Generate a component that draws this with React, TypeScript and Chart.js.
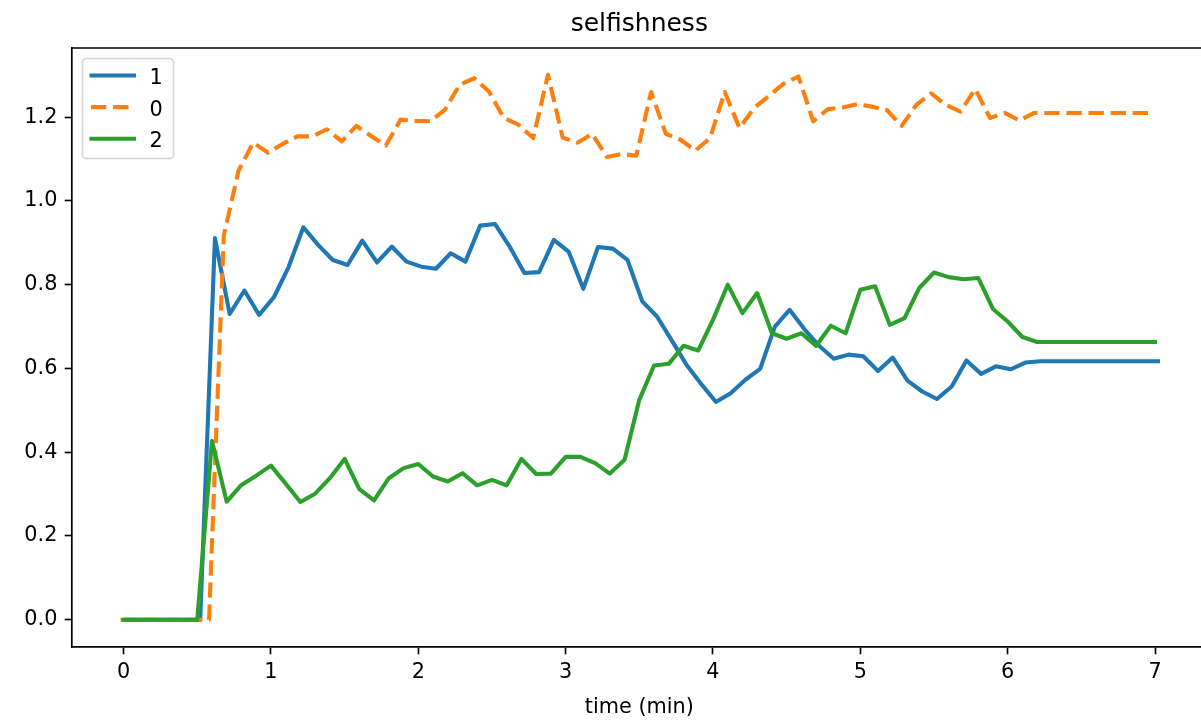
import React, { useEffect, useRef } from "react";
import { Chart, registerables } from "chart.js";

Chart.register(...registerables);

const FONT = "'DejaVu Sans', 'Liberation Sans', sans-serif";

const chartTitle = "selfishness";
const xAxisTitle = "time (min)";

const times = [
  0, 0.1, 0.2, 0.3, 0.4, 0.5, 0.6, 0.7, 0.8, 0.9,
  1, 1.1, 1.2, 1.3, 1.4, 1.5, 1.6, 1.7, 1.8, 1.9,
  2, 2.1, 2.2, 2.3, 2.4, 2.5, 2.6, 2.7, 2.8, 2.9,
  3, 3.1, 3.2, 3.3, 3.4, 3.5, 3.6, 3.7, 3.8, 3.9,
  4, 4.1, 4.2, 4.3, 4.4, 4.5, 4.6, 4.7, 4.8, 4.9,
  5, 5.1, 5.2, 5.3, 5.4, 5.5, 5.6, 5.7, 5.8, 5.9,
  6, 6.1, 6.2, 6.3, 6.4, 6.5, 6.6, 6.7, 6.8, 6.9,
  7,
];

// per-series time shift (sampling offset)
const shift1 = 0.02;
const shift0 = -0.02;
const shift2 = 0;

const labels = ["1", "0", "2"];

const series1 = [
  0, 0, 0, 0, 0, 0, 0.911, 0.730, 0.786, 0.728,
  0.770, 0.842, 0.937, 0.895, 0.859, 0.847, 0.905, 0.853, 0.891, 0.855,
  0.843, 0.838, 0.875, 0.855, 0.941, 0.945, 0.891, 0.828, 0.830, 0.907,
  0.879, 0.790, 0.890, 0.886, 0.859, 0.760, 0.724, 0.667, 0.609, 0.563,
  0.520, 0.541, 0.573, 0.599, 0.700, 0.740, 0.694, 0.654, 0.623, 0.633,
  0.629, 0.594, 0.626, 0.571, 0.545, 0.527, 0.557, 0.619, 0.587, 0.605,
  0.598, 0.614, 0.617, 0.617, 0.617, 0.617, 0.617, 0.617, 0.617, 0.617,
  0.617,
];

const series0 = [
  0, 0, 0, 0, 0, 0, 0, 0.917, 1.072, 1.139,
  1.115, 1.136, 1.154, 1.154, 1.171, 1.142, 1.179, 1.155, 1.132, 1.194,
  1.191, 1.190, 1.217, 1.277, 1.293, 1.261, 1.198, 1.182, 1.150, 1.301,
  1.151, 1.139, 1.160, 1.105, 1.112, 1.108, 1.260, 1.160, 1.146, 1.120,
  1.150, 1.260, 1.174, 1.222, 1.251, 1.280, 1.297, 1.190, 1.219, 1.223,
  1.231, 1.225, 1.217, 1.179, 1.229, 1.257, 1.229, 1.213, 1.267, 1.198,
  1.210, 1.192, 1.210, 1.210, 1.210, 1.210, 1.210, 1.210, 1.210, 1.210,
  1.210,
];

const series2 = [
  0, 0, 0, 0, 0, 0, 0.427, 0.282, 0.322, 0.344,
  0.368, 0.325, 0.281, 0.301, 0.338, 0.384, 0.312, 0.285, 0.338, 0.362,
  0.372, 0.342, 0.330, 0.350, 0.321, 0.334, 0.321, 0.384, 0.348, 0.349,
  0.389, 0.389, 0.374, 0.349, 0.382, 0.525, 0.607, 0.611, 0.654, 0.643,
  0.716, 0.800, 0.732, 0.780, 0.684, 0.671, 0.684, 0.654, 0.702, 0.684,
  0.788, 0.796, 0.704, 0.720, 0.792, 0.829, 0.818, 0.813, 0.816, 0.742,
  0.712, 0.675, 0.663, 0.663, 0.663, 0.663, 0.663, 0.663, 0.663, 0.663,
  0.663,
];

const xTicks = [0, 1, 2, 3, 4, 5, 6, 7];
const yTicks = [0, 0.2, 0.4, 0.6, 0.8, 1.0, 1.2];

const X_MIN = -0.35;
const X_MAX = 7.35;
const Y_MIN = -0.065;
const Y_MAX = 1.365;

const BLUE = "#1f77b4";
const ORANGE = "#ff7f0e";
const GREEN = "#2ca02c";

const LW = 4.1;
const DASH = [15.4, 6.7];
const SPINE = 1.67;

const toPoints = (ys: number[], shift: number) =>
  ys.map((y, i) => ({ x: times[i] + shift, y }));

const framePlugin = {
  id: "framePlugin",
  afterDraw(chart: any) {
    const { ctx, chartArea: a } = chart;
    ctx.save();
    // top spine
    ctx.strokeStyle = "#000";
    ctx.lineWidth = SPINE;
    ctx.lineCap = "square";
    ctx.beginPath();
    ctx.moveTo(a.left, a.top);
    ctx.lineTo(a.right + 10, a.top);
    ctx.stroke();

    // legend
    const lx = a.left + 10.5;
    const ly = a.top + 10.5;
    const lw = 91;
    const lh = 100;
    const r = 4;
    ctx.beginPath();
    ctx.moveTo(lx + r, ly);
    ctx.arcTo(lx + lw, ly, lx + lw, ly + lh, r);
    ctx.arcTo(lx + lw, ly + lh, lx, ly + lh, r);
    ctx.arcTo(lx, ly + lh, lx, ly, r);
    ctx.arcTo(lx, ly, lx + lw, ly, r);
    ctx.closePath();
    ctx.fillStyle = "rgba(255,255,255,0.8)";
    ctx.fill();
    ctx.strokeStyle = "#d4d4d4";
    ctx.lineWidth = 1.6;
    ctx.stroke();

    const ds = chart.data.datasets;
    ds.forEach((d: any, i: number) => {
      const rowY = ly + 17 + i * 31.6;
      ctx.save();
      ctx.strokeStyle = d.borderColor;
      ctx.lineWidth = LW;
      const dashed = d.borderDash && d.borderDash.length;
      ctx.setLineDash(dashed ? d.borderDash : []);
      ctx.lineCap = dashed ? "butt" : "square";
      ctx.beginPath();
      ctx.moveTo(lx + (dashed ? 8.5 : 9), rowY);
      ctx.lineTo(lx + 51.5, rowY);
      ctx.stroke();
      ctx.restore();
      ctx.fillStyle = "#000";
      ctx.font = `20.8px ${FONT}`;
      ctx.textAlign = "left";
      ctx.textBaseline = "alphabetic";
      ctx.fillText(d.label, lx + 67, rowY + 8.6);
    });
    ctx.restore();
  },
};

export default function App() {
  const ref = useRef<HTMLCanvasElement | null>(null);

  useEffect(() => {
    if (!ref.current) return;
    Chart.defaults.color = "#000";
    Chart.defaults.font.family = FONT;
    const chart = new Chart(ref.current, {
      type: "line",
      data: {
        datasets: [
          {
            label: labels[0],
            data: toPoints(series1, shift1),
            borderColor: BLUE,
            backgroundColor: BLUE,
            borderWidth: LW,
            borderCapStyle: "square",
            borderJoinStyle: "round",
            pointRadius: 0,
            tension: 0,
            order: 2,
          },
          {
            label: labels[1],
            data: toPoints(series0, shift0),
            borderColor: ORANGE,
            backgroundColor: ORANGE,
            borderWidth: LW,
            borderDash: DASH,
            borderCapStyle: "butt",
            borderJoinStyle: "round",
            pointRadius: 0,
            tension: 0,
            order: 1,
          },
          {
            label: labels[2],
            data: toPoints(series2, shift2),
            borderColor: GREEN,
            backgroundColor: GREEN,
            borderWidth: LW,
            borderCapStyle: "square",
            borderJoinStyle: "round",
            pointRadius: 0,
            tension: 0,
            order: 0,
          },
        ],
      },
      options: {
        responsive: false,
        animation: false,
        devicePixelRatio: 1,
        layout: { padding: { left: 0, right: 8.4, top: 0, bottom: 0 } },
        plugins: {
          legend: { display: false },
          tooltip: { enabled: false },
          title: {
            display: true,
            fullSize: false,
            text: chartTitle,
            color: "#000",
            font: { size: 25, family: FONT, weight: "normal" },
            padding: { top: 9, bottom: 9 },
          },
        },
        scales: {
          x: {
            type: "linear",
            min: X_MIN,
            max: X_MAX,
            afterBuildTicks: (s: any) => {
              s.ticks = xTicks.map((v) => ({ value: v }));
            },
            afterFit: (s: any) => {
              s.height = 76;
            },
            ticks: {
              color: "#000",
              font: { size: 20.8, family: FONT },
              padding: 6,
              maxRotation: 0,
              autoSkip: false,
              callback: (v: any) => String(v),
            },
            grid: {
              display: true,
              drawOnChartArea: false,
              drawTicks: true,
              tickLength: 7.3,
              tickWidth: SPINE,
              tickColor: "#000",
            },
            border: { display: true, color: "#000", width: SPINE },
            title: {
              display: true,
              text: xAxisTitle,
              color: "#000",
              font: { size: 20.8, family: FONT },
              padding: { top: 0, bottom: 3 },
            },
          },
          y: {
            type: "linear",
            min: Y_MIN,
            max: Y_MAX,
            afterBuildTicks: (s: any) => {
              s.ticks = yTicks.map((v) => ({ value: v }));
            },
            afterFit: (s: any) => {
              s.width = 72;
            },
            ticks: {
              color: "#000",
              font: { size: 20.8, family: FONT },
              padding: 7.3,
              autoSkip: false,
              callback: (v: any) => Number(v).toFixed(1),
            },
            grid: {
              display: true,
              drawOnChartArea: false,
              drawTicks: true,
              tickLength: 7.3,
              tickWidth: SPINE,
              tickColor: "#000",
            },
            border: { display: true, color: "#000", width: SPINE },
          },
        },
      },
      plugins: [framePlugin],
    } as any);
    return () => chart.destroy();
  }, []);

  return (
    <div
      style={{
        position: "fixed",
        left: 0,
        top: 0,
        width: 1201,
        height: 723,
        overflow: "hidden",
        background: "#fff",
      }}
    >
      <canvas ref={ref} width={1215} height={723} style={{ display: "block" }} />
    </div>
  );
}
